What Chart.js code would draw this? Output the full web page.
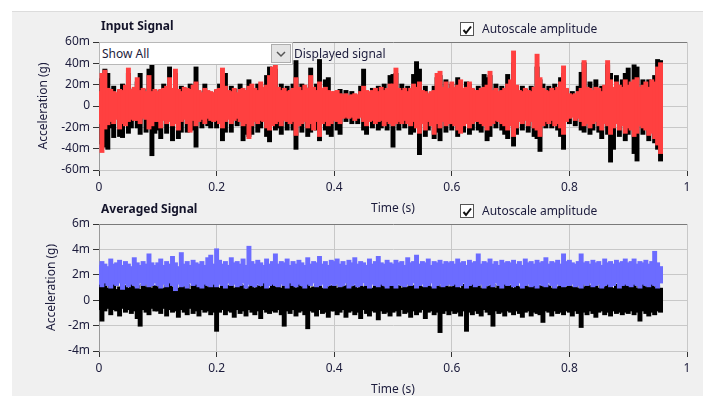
<!DOCTYPE html>
<html>
<head>
<meta charset="utf-8">
<script src="https://cdn.jsdelivr.net/npm/chart.js@4/dist/chart.umd.min.js"></script>
<style>
  body { margin: 0; width: 705px; height: 396px; overflow: hidden; position: relative; background: #fff; font-family: "Noto Sans", sans-serif; }
  #panel { position: absolute; left: 12px; top: 11px; width: 691px; height: 385px; background: #f0f0f0; border-top: 1px solid #dcdcdc; }
  canvas { position: absolute; left: 0; }
  .ttl { position: absolute; left: 101px; font-weight: bold; font-size: 12px; color: #14142a; }
  .chk { position: absolute; left: 460px; font-size: 12px; color: #1c1c3c; height: 15px; }
  .chk .box { position: absolute; left: 0; top: 0; width: 12px; height: 12px; border: 1px solid #555; background: #fff; }
  .chk span { position: absolute; left: 22px; top: -2px; white-space: nowrap; }
  #drop { position: absolute; left: 99px; top: 42px; width: 192px; height: 21px; background: #fff; border: 1px solid #b8b8b8; font-size: 12px; color: #1c1c3c; z-index: 2; }
  #drop .txt { position: absolute; left: 2px; top: 2px; }
  #drop .btn { position: absolute; right: 1px; top: 1px; width: 18px; height: 17px; background: #e4e4e4; border: 1px solid #adadad; }
  #disp { position: absolute; left: 294px; top: 45px; font-size: 12px; color: #1c1c3c; z-index: 2; }
</style>
</head>
<body>
<div id="panel"></div>
<canvas id="topChart" width="705" height="217" style="top:0"></canvas>
<canvas id="botChart" width="705" height="218" style="top:180px"></canvas>

<div class="ttl" style="top:17px">Input Signal</div>
<div class="chk" style="top:22px"><div class="box"><svg width="12" height="12"><polyline points="2.5,6 5,9 10,2.5" fill="none" stroke="#111" stroke-width="2"/></svg></div><span>Autoscale amplitude</span></div>
<div id="drop"><div class="txt">Show All</div><div class="btn"><svg width="18" height="17"><polyline points="5,7 9,11 13,7" fill="none" stroke="#555" stroke-width="1.5"/></svg></div></div>
<div id="disp">Displayed signal</div>

<div class="ttl" style="top:200px">Averaged Signal</div>
<div class="chk" style="top:204px"><div class="box"><svg width="12" height="12"><polyline points="2.5,6 5,9 10,2.5" fill="none" stroke="#111" stroke-width="2"/></svg></div><span>Autoscale amplitude</span></div>

<script>
// bin width of the envelope readings (s)
const binWidth = 0.005;
const xTickLabels = ['0', '0.2', '0.4', '0.6', '0.8', '1'];

// Input Signal, envelope per bin in milli-g (red = displayed, black = input)
const displayedHi = [
  13,30,33,16,15,13,12,15,14,19,35,15,17,26,14,16,13,28,13,15,
  13,15,16,18,26,16,34,15,13,17,16,15,19,22,14,12,16,14,13,12,
  15,16,35,18,14,13,16,12,15,16,14,18,20,16,14,22,17,19,28,36,
  38,17,14,16,13,14,16,26,17,14,19,16,28,17,14,22,16,17,14,13,
  13,14,11,10,11,9,10,11,10,13,18,14,13,14,16,13,17,14,16,20,
  20,35,16,14,16,13,16,20,17,22,14,13,11,13,14,30,32,17,22,16,
  22,17,19,24,16,17,22,16,14,14,16,17,19,32,14,16,13,14,16,20,
  24,51,19,14,13,16,14,13,17,48,26,16,14,13,16,14,17,22,37,16,
  11,10,11,13,16,42,17,16,14,17,16,13,19,42,24,17,22,19,17,24,
  19,22,24,26,17,19,22,17,24,22,36,40
];
const displayedLo = [
  -16,-43,-21,-17,-14,-16,-12,-21,-16,-18,-14,-12,-13,-13,-16,-11,-12,-21,-18,-14,
  -14,-20,-13,-16,-14,-18,-16,-22,-14,-12,-16,-24,-13,-18,-14,-12,-16,-11,-13,-14,
  -13,-16,-20,-14,-12,-16,-13,-11,-14,-18,-16,-30,-18,-14,-16,-13,-14,-20,-22,-18,
  -16,-14,-18,-13,-14,-16,-14,-27,-18,-16,-14,-20,-16,-22,-14,-28,-16,-14,-18,-16,
  -13,-14,-16,-11,-10,-11,-10,-13,-11,-10,-14,-18,-14,-13,-16,-14,-13,-18,-14,-16,
  -18,-16,-14,-16,-13,-16,-18,-14,-20,-25,-16,-22,-14,-18,-26,-16,-20,-14,-18,-16,
  -16,-18,-22,-25,-18,-16,-20,-16,-14,-14,-16,-18,-22,-18,-16,-13,-14,-16,-18,-22,
  -18,-28,-20,-14,-16,-13,-18,-14,-20,-22,-28,-18,-14,-16,-13,-18,-16,-20,-26,-14,
  -11,-10,-13,-11,-14,-18,-16,-20,-16,-14,-18,-22,-16,-18,-26,-20,-16,-22,-18,-25,
  -20,-22,-28,-25,-18,-20,-22,-27,-25,-30,-36,-44
];
const inputHi = [
  12,25,34,30,14,18,11,14,20,18,30,14,16,22,30,15,12,34,38,14,
  12,14,20,16,36,14,30,14,18,15,14,20,15,36,13,11,20,13,12,11,
  14,20,28,30,13,18,15,11,20,14,13,24,15,15,20,20,15,28,36,30,
  34,15,20,14,18,13,20,42,15,20,17,15,35,15,20,43,14,24,26,12,
  12,13,15,9,14,8,13,10,9,18,34,13,12,16,13,18,15,20,14,28,
  29,30,14,20,14,18,15,29,41,34,13,18,10,12,18,26,28,16,24,15,
  20,16,26,22,15,22,20,15,13,18,15,29,26,28,13,20,12,18,15,29,
  22,40,18,13,18,15,13,18,16,36,24,20,13,18,15,20,16,26,30,15,
  10,13,10,18,31,40,16,22,13,24,15,18,18,38,30,16,28,18,24,30,
  35,20,38,36,16,24,20,24,22,28,43,42
];
const inputLo = [
  -15,-35,-38,-40,-20,-29,-11,-28,-29,-17,-25,-20,-12,-20,-26,-10,-24,-20,-46,-25,
  -22,-30,-12,-25,-13,-32,-15,-30,-24,-11,-24,-22,-22,-38,-13,-20,-12,-18,-20,-13,
  -20,-15,-32,-24,-11,-24,-12,-18,-13,-32,-26,-28,-26,-13,-24,-20,-13,-28,-33,-17,
  -22,-20,-26,-12,-22,-13,-22,-40,-17,-24,-13,-28,-24,-21,-22,-32,-15,-22,-26,-28,
  -12,-22,-26,-10,-14,-10,-16,-12,-16,-9,-22,-26,-13,-20,-15,-22,-20,-17,-22,-13,
  -38,-15,-22,-15,-20,-15,-26,-24,-19,-45,-15,-28,-22,-17,-30,-24,-32,-13,-24,-15,
  -22,-17,-28,-24,-24,-15,-26,-22,-13,-22,-24,-17,-32,-28,-15,-20,-13,-22,-26,-30,
  -17,-37,-26,-13,-22,-12,-24,-13,-28,-30,-42,-17,-20,-15,-20,-17,-22,-28,-40,-13,
  -16,-9,-18,-10,-22,-24,-15,-26,-22,-13,-24,-30,-15,-26,-52,-40,-15,-28,-17,-32,
  -26,-17,-44,-51,-17,-26,-21,-32,-24,-34,-40,-51
];

// Averaged Signal, envelope per bin in milli-g
const avgBlueHi = [
  2.7,3.0,2.8,2.6,3.2,2.8,2.9,3.1,2.7,3.0,2.8,2.6,3.3,2.9,2.7,3.0,2.8,3.6,2.9,2.7,
  2.9,3.2,2.7,3.0,2.8,3.4,2.9,2.6,3.7,2.8,3.0,2.7,3.1,2.9,2.8,3.0,2.7,3.3,3.5,2.8,
  4.0,3.1,2.8,3.0,2.7,3.3,2.9,3.0,2.8,3.2,2.7,4.2,3.0,2.8,3.1,2.9,2.7,3.2,2.8,3.0,
  3.6,2.8,3.0,2.9,3.2,2.7,3.0,2.8,3.1,2.9,2.7,3.3,2.8,3.0,2.9,3.4,2.8,3.0,2.7,3.1,
  3.0,3.2,2.8,3.0,2.7,3.1,2.9,3.3,2.8,3.0,2.9,2.7,3.2,2.8,3.0,3.4,2.9,2.8,3.1,2.9,
  2.8,3.1,2.9,3.0,2.7,3.3,2.9,3.0,3.5,2.8,3.0,2.9,3.2,2.7,3.0,2.9,3.1,2.8,3.0,2.9,
  3.0,2.8,3.2,2.9,3.0,2.7,3.1,2.9,3.0,3.6,2.8,3.0,2.9,3.2,2.8,3.0,2.7,3.1,2.9,3.0,
  2.9,3.1,2.8,3.0,2.7,3.2,2.9,3.0,2.8,3.1,2.9,3.0,3.3,2.8,3.0,2.9,3.1,2.8,3.6,3.0,
  3.1,2.9,2.8,3.0,3.6,2.9,3.0,2.8,3.1,2.9,3.0,2.7,3.2,2.9,3.0,2.8,3.1,2.9,3.0,3.2,
  2.9,3.0,3.2,2.8,3.0,2.9,3.1,2.8,3.0,3.8,2.9,2.6
];
const avgBlueLo = [
  1.3,1.1,1.4,1.2,1.0,1.3,1.2,1.4,0.9,1.3,1.1,1.3,1.2,1.0,1.4,1.2,1.3,1.1,1.2,1.4,
  1.2,1.0,1.3,1.1,1.4,1.2,0.8,1.3,1.1,1.2,1.0,1.4,1.2,1.3,1.1,1.0,1.3,1.2,1.1,1.3,
  1.1,1.3,1.2,1.0,1.4,1.2,1.3,1.1,1.2,1.4,1.0,1.3,1.2,1.1,1.3,1.2,1.4,1.0,1.2,1.3,
  1.2,1.1,1.3,1.2,1.0,1.4,1.2,1.1,1.3,1.2,1.0,1.3,1.2,1.4,1.1,1.2,1.3,1.0,1.2,1.3,
  1.2,1.3,1.1,1.2,1.4,1.0,1.2,1.3,1.1,1.2,1.4,1.2,1.0,1.3,1.2,1.1,1.3,1.2,1.0,1.2,
  1.2,1.0,1.3,1.2,1.1,1.3,1.2,1.4,1.0,1.2,1.3,1.1,1.2,1.4,1.0,1.2,1.3,1.1,1.2,1.3,
  1.2,1.3,1.1,1.2,1.4,1.0,1.2,1.3,1.1,1.2,1.3,1.0,1.2,1.3,1.1,1.4,1.2,1.0,1.3,1.2,
  1.3,1.1,1.2,1.4,1.0,1.2,1.3,1.1,1.2,1.0,1.3,1.2,1.1,1.4,1.2,1.0,1.3,1.2,1.1,1.2,
  1.2,1.3,1.1,1.2,1.0,1.3,1.2,1.4,1.1,1.2,1.3,1.0,1.2,1.3,1.1,1.2,1.4,1.0,1.2,1.3,
  1.2,1.1,1.3,1.2,1.0,1.3,1.2,1.1,1.3,1.2,1.0,1.4
];
const avgBlackHi = [
  1.2,1.0,1.3,0.9,1.1,1.2,0.8,1.0,1.3,1.1,0.9,1.2,1.0,1.1,0.8,1.2,1.0,1.3,0.9,1.1,
  1.0,1.2,0.9,1.1,1.3,1.0,1.2,0.9,1.1,1.0,1.2,0.8,1.1,1.3,1.0,0.9,1.2,1.0,1.1,1.2,
  1.1,0.9,1.2,1.0,1.1,1.3,0.9,1.0,1.2,1.1,0.8,1.0,1.2,0.9,1.1,1.0,1.3,1.1,0.9,1.2,
  1.0,1.2,0.9,1.1,1.0,1.3,1.1,0.9,1.2,1.0,1.1,1.2,0.9,1.0,1.2,1.1,0.9,1.3,1.0,1.1,
  1.1,0.9,1.2,1.0,1.1,1.3,1.0,1.1,0.9,1.2,1.0,1.1,1.2,0.9,1.1,1.0,1.2,1.0,1.1,1.3,
  1.2,1.0,1.1,0.9,1.3,1.0,1.2,1.1,0.9,1.2,1.0,1.1,1.3,1.0,0.9,1.2,1.0,1.1,1.2,1.0,
  1.0,1.2,1.1,0.9,1.2,1.0,1.1,1.3,1.0,1.1,0.9,1.2,1.0,1.1,1.2,0.9,1.1,1.0,1.2,1.1,
  1.1,0.9,1.2,1.0,1.1,1.3,1.0,1.1,1.2,0.9,1.1,1.0,1.2,1.1,0.9,1.2,1.0,1.1,1.3,1.0,
  1.2,1.0,1.1,0.9,1.2,1.0,1.3,1.1,1.0,1.2,0.9,1.1,1.0,1.2,1.1,0.9,1.2,1.0,1.1,1.3,
  1.1,1.0,1.2,0.9,1.1,1.3,1.0,1.1,1.2,1.0,1.1,0.9
];
const avgBlackLo = [
  -0.7,-1.6,-0.8,-0.6,-1.1,-0.7,-0.8,-1.2,-0.6,-0.9,-0.7,-1.0,-0.8,-1.4,-2.0,-0.7,-0.9,-1.1,-0.6,-0.8,
  -0.8,-1.0,-0.6,-1.2,-0.7,-0.9,-0.8,-1.3,-0.7,-0.9,-1.1,-0.6,-1.0,-0.8,-1.2,-0.7,-0.9,-0.8,-1.1,-0.9,
  -2.4,-0.9,-0.7,-1.1,-0.8,-0.9,-1.3,-0.7,-1.0,-0.8,-1.2,-0.7,-0.9,-1.1,-0.8,-1.4,-0.7,-0.9,-1.0,-0.8,
  -0.9,-0.7,-1.1,-2.0,-0.8,-1.0,-0.7,-1.2,-0.9,-0.8,-1.1,-2.2,-0.8,-0.9,-1.2,-0.7,-1.0,-0.9,-1.3,-0.8,
  -0.8,-1.1,-0.9,-0.7,-1.3,-0.9,-0.8,-1.1,-0.9,-1.4,-0.7,-1.0,-1.2,-0.8,-0.9,-1.5,-0.8,-1.0,-0.9,-1.2,
  -0.9,-0.8,-1.2,-0.7,-1.0,-0.9,-1.3,-0.8,-1.1,-0.9,-0.7,-1.4,-0.9,-0.8,-1.1,-0.9,-2.5,-1.0,-0.8,-1.1,
  -0.8,-1.0,-0.9,-1.2,-0.8,-2.4,-0.9,-1.1,-0.8,-1.0,-1.2,-0.7,-0.9,-1.1,-2.0,-0.8,-1.0,-0.9,-1.2,-0.8,
  -0.9,-1.1,-0.8,-1.0,-1.3,-0.9,-0.8,-1.2,-0.9,-1.0,-1.1,-1.7,-0.8,-0.9,-1.2,-0.8,-1.0,-0.9,-1.1,-0.8,
  -0.9,-1.2,-0.8,-1.0,-2.1,-0.9,-1.1,-0.8,-1.0,-1.3,-0.9,-0.8,-1.1,-0.9,-1.2,-0.8,-1.0,-0.9,-1.1,-0.9,
  -1.0,-0.8,-1.1,-0.9,-1.6,-0.8,-1.0,-1.2,-0.9,-1.1,-0.8,-0.9
];

const textColor = '#1c1c3c';
const fontFamily = '"Noto Sans", sans-serif';

function band(lo, hi) {
  return lo.map((v, i) => ({ x: i * binWidth, y: [v, hi[i]] }));
}

function fmtMilli(v) {
  return v === 0 ? '0' : v + 'm';
}

function makeOptions(yMin, yMax, yStep, padLeft, padTop, yWidth) {
  return {
    responsive: false,
    animation: false,
    events: [],
    layout: { padding: { left: padLeft, top: padTop, right: 18, bottom: 0 } },
    plugins: { legend: { display: false }, tooltip: { enabled: false } },
    datasets: { bar: { grouped: false, barPercentage: 1, categoryPercentage: 1, borderWidth: 0, inflateAmount: 1 } },
    scales: {
      x: {
        type: 'linear', min: 0, max: 1, offset: false,
        afterFit: s => { s.height = 47; },
        grid: { offset: false, color: '#c8c8c8', tickColor: '#333', tickLength: 6 },
        border: { color: '#c8c8c8' },
        ticks: {
          stepSize: 0.2, color: textColor, font: { family: fontFamily, size: 12 }, padding: 4,
          callback: (v, i) => xTickLabels[i]
        },
        title: { display: true, text: 'Time (s)', color: textColor, font: { family: fontFamily, size: 12 }, padding: { top: 0, bottom: 1 } }
      },
      y: {
        min: yMin, max: yMax,
        afterFit: s => { s.width = yWidth; },
        grid: {
          color: c => (c.tick && c.tick.value === yMax ? '#7a7a7a' : '#c8c8c8'),
          tickColor: '#333', tickLength: 6
        },
        border: { color: '#9a9a9a' },
        ticks: { stepSize: yStep, color: textColor, font: { family: fontFamily, size: 12 }, padding: 3, callback: v => fmtMilli(v) },
        title: { display: true, text: 'Acceleration (g)', color: textColor, font: { family: fontFamily, size: 12 }, padding: { top: 0, bottom: 4 } }
      }
    }
  };
}

new Chart(document.getElementById('topChart'), {
  type: 'bar',
  data: {
    datasets: [
      { label: 'Displayed signal', data: band(displayedLo, displayedHi), backgroundColor: '#ff4040' },
      { label: 'Input signal', data: band(inputLo, inputHi), backgroundColor: '#000000' }
    ]
  },
  options: makeOptions(-60, 60, 20, 36, 42, 63)
});

new Chart(document.getElementById('botChart'), {
  type: 'bar',
  data: {
    datasets: [
      { label: 'Averaged 1', data: band(avgBlueLo, avgBlueHi), backgroundColor: '#6c6cff' },
      { label: 'Averaged 2', data: band(avgBlackLo, avgBlackHi), backgroundColor: '#000000' }
    ]
  },
  options: makeOptions(-4, 6, 2, 44, 44, 55)
});
</script>
</body>
</html>
